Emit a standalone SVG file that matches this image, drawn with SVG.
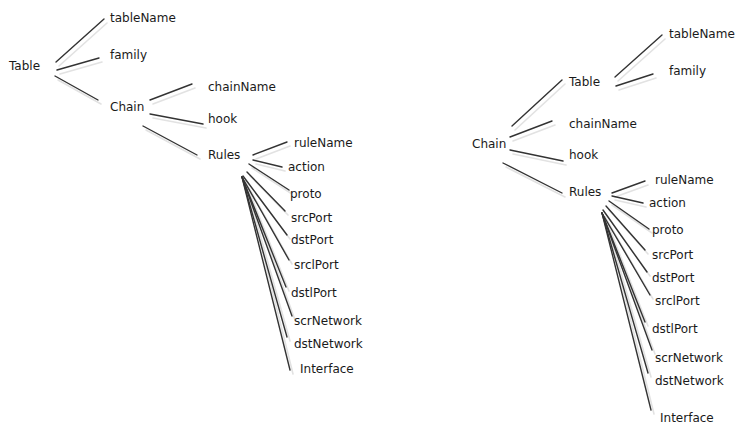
<svg xmlns="http://www.w3.org/2000/svg" width="756" height="441" viewBox="0 0 756 441">
<style>
text{font-family:"DejaVu Sans","Liberation Sans",sans-serif;font-size:12px;fill:#1a1a1a}
.e line{stroke:#333;stroke-width:1.4;stroke-linecap:round}
.s line{stroke:#e2e2e2;stroke-width:1.6;stroke-linecap:round}
</style>
<rect width="756" height="441" fill="#fff"/>
<g id="connectors">
<g class="s" transform="translate(3,4)">
<line x1="56" y1="62" x2="104" y2="19"/><line x1="57" y1="70" x2="99" y2="58"/><line x1="55" y1="76" x2="98" y2="100"/>
<line x1="150" y1="100" x2="192" y2="84"/><line x1="150" y1="114" x2="203" y2="124"/><line x1="143" y1="126" x2="197" y2="155"/>
<line x1="253" y1="155" x2="287" y2="142"/><line x1="253" y1="160" x2="282" y2="167"/><line x1="249" y1="164" x2="289" y2="190"/>
<line x1="247" y1="172" x2="285" y2="211"/><line x1="243" y1="176" x2="287" y2="235"/><line x1="242" y1="177" x2="289" y2="260"/>
<line x1="242" y1="177" x2="286" y2="287"/><line x1="242" y1="177" x2="292" y2="316"/><line x1="242" y1="177" x2="287" y2="337"/>
<line x1="242" y1="177" x2="290" y2="370"/>
<line x1="512" y1="126" x2="562" y2="80"/><line x1="510" y1="137" x2="552" y2="121"/><line x1="510" y1="150" x2="563" y2="161"/>
<line x1="503" y1="163" x2="562" y2="193"/><line x1="615" y1="77" x2="662" y2="35"/><line x1="616" y1="86" x2="653" y2="74"/>
<line x1="612" y1="193" x2="645" y2="181"/><line x1="612" y1="196" x2="643" y2="203"/><line x1="609" y1="201" x2="649" y2="229"/>
<line x1="606" y1="206" x2="645" y2="250"/><line x1="603" y1="210" x2="647" y2="272"/><line x1="602" y1="213" x2="650" y2="295"/>
<line x1="602" y1="213" x2="645" y2="322"/><line x1="602" y1="213" x2="652" y2="350"/><line x1="602" y1="213" x2="648" y2="373"/>
<line x1="602" y1="213" x2="651" y2="410"/>
</g>
<g class="e">
<line x1="56" y1="62" x2="104" y2="19"/><line x1="57" y1="70" x2="99" y2="58"/><line x1="55" y1="76" x2="98" y2="100"/>
<line x1="150" y1="100" x2="192" y2="84"/><line x1="150" y1="114" x2="203" y2="124"/><line x1="143" y1="126" x2="197" y2="155"/>
<line x1="253" y1="155" x2="287" y2="142"/><line x1="253" y1="160" x2="282" y2="167"/><line x1="249" y1="164" x2="289" y2="190"/>
<line x1="247" y1="172" x2="285" y2="211"/><line x1="243" y1="176" x2="287" y2="235"/><line x1="242" y1="177" x2="289" y2="260"/>
<line x1="242" y1="177" x2="286" y2="287"/><line x1="242" y1="177" x2="292" y2="316"/><line x1="242" y1="177" x2="287" y2="337"/>
<line x1="242" y1="177" x2="290" y2="370"/>
<line x1="512" y1="126" x2="562" y2="80"/><line x1="510" y1="137" x2="552" y2="121"/><line x1="510" y1="150" x2="563" y2="161"/>
<line x1="503" y1="163" x2="562" y2="193"/><line x1="615" y1="77" x2="662" y2="35"/><line x1="616" y1="86" x2="653" y2="74"/>
<line x1="612" y1="193" x2="645" y2="181"/><line x1="612" y1="196" x2="643" y2="203"/><line x1="609" y1="201" x2="649" y2="229"/>
<line x1="606" y1="206" x2="645" y2="250"/><line x1="603" y1="210" x2="647" y2="272"/><line x1="602" y1="213" x2="650" y2="295"/>
<line x1="602" y1="213" x2="645" y2="322"/><line x1="602" y1="213" x2="652" y2="350"/><line x1="602" y1="213" x2="648" y2="373"/>
<line x1="602" y1="213" x2="651" y2="410"/>
</g>
</g>
<g id="L-Table"><text x="9" y="70">Table</text></g>
<g id="L-tableName"><text x="110" y="22">tableName</text></g>
<g id="L-family"><text x="110" y="59">family</text></g>
<g id="L-Chain"><text x="110" y="111">Chain</text></g>
<g id="L-chainName"><text x="208" y="91">chainName</text></g>
<g id="L-hook"><text x="208" y="123">hook</text></g>
<g id="L-Rules"><text x="208" y="159">Rules</text></g>
<g id="L-ruleName"><text x="294" y="147">ruleName</text></g>
<g id="L-action"><text x="288" y="171">action</text></g>
<g id="L-proto"><text x="290" y="198">proto</text></g>
<g id="L-srcPort"><text x="291" y="222">srcPort</text></g>
<g id="L-dstPort"><text x="291" y="244">dstPort</text></g>
<g id="L-srclPort"><text x="294" y="269">srclPort</text></g>
<g id="L-dstlPort"><text x="291" y="297">dstlPort</text></g>
<g id="L-scrNetwork"><text x="294" y="325">scrNetwork</text></g>
<g id="L-dstNetwork"><text x="294" y="348">dstNetwork</text></g>
<g id="L-Interface"><text x="300" y="373">Interface</text></g>
<g id="R-Chain"><text x="472" y="148">Chain</text></g>
<g id="R-Table"><text x="569" y="86">Table</text></g>
<g id="R-tableName"><text x="669" y="38">tableName</text></g>
<g id="R-family"><text x="669" y="75">family</text></g>
<g id="R-chainName"><text x="569" y="128">chainName</text></g>
<g id="R-hook"><text x="569" y="159">hook</text></g>
<g id="R-Rules"><text x="569" y="196">Rules</text></g>
<g id="R-ruleName"><text x="655" y="184">ruleName</text></g>
<g id="R-action"><text x="649" y="207">action</text></g>
<g id="R-proto"><text x="652" y="234">proto</text></g>
<g id="R-srcPort"><text x="652" y="259">srcPort</text></g>
<g id="R-dstPort"><text x="652" y="282">dstPort</text></g>
<g id="R-srclPort"><text x="655" y="305">srclPort</text></g>
<g id="R-dstlPort"><text x="652" y="333">dstlPort</text></g>
<g id="R-scrNetwork"><text x="655" y="362">scrNetwork</text></g>
<g id="R-dstNetwork"><text x="655" y="385">dstNetwork</text></g>
<g id="R-Interface"><text x="660" y="422">Interface</text></g>
</svg>
